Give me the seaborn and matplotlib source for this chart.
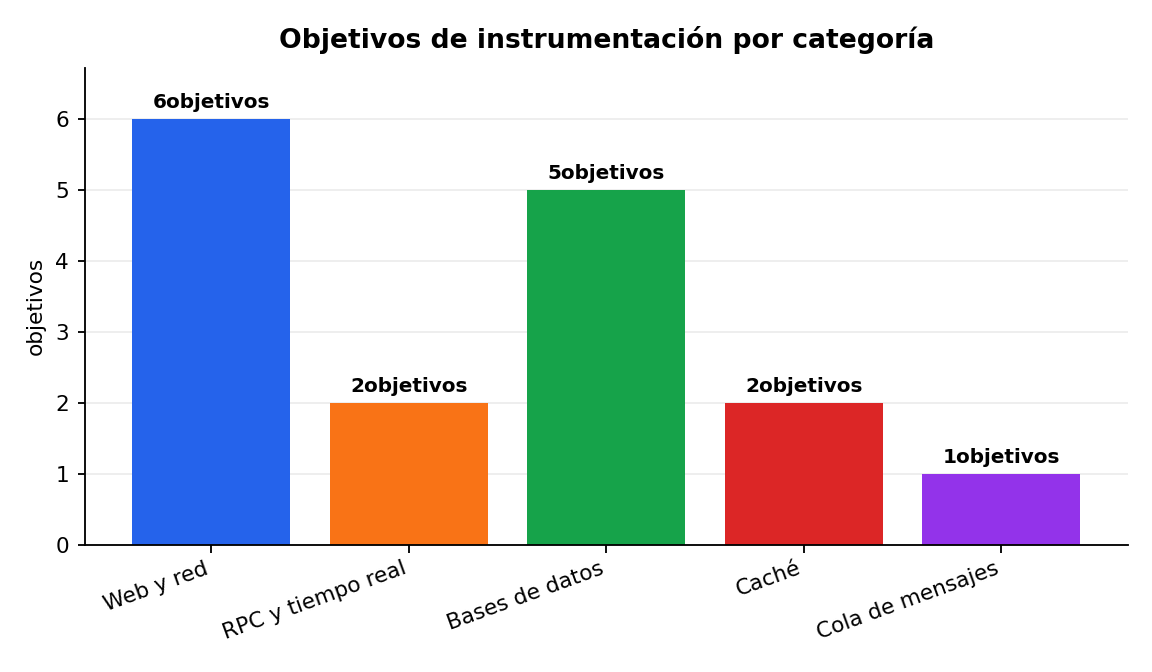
import pandas as pd
import numpy as np
import matplotlib.pyplot as plt
import seaborn as sns

categorias = ["Web y red", "RPC y tiempo real", "Bases de datos", "Caché", "Cola de mensajes"]
objetivos = [6, 2, 5, 2, 1]
colores = ["#2563eb", "#f97316", "#16a34a", "#dc2626", "#9333ea"]

df = pd.DataFrame({"categoria": categorias, "objetivos": objetivos})

sns.set_style("white")
plt.rcParams['font.family'] = ['DejaVu Sans']
plt.rcParams['text.color'] = 'black'
plt.rcParams['axes.labelcolor'] = 'black'
plt.rcParams['xtick.color'] = 'black'
plt.rcParams['ytick.color'] = 'black'
plt.rcParams['axes.edgecolor'] = 'black'

fig = plt.figure(figsize=(9.6, 5.6), dpi=120)
ax = fig.add_axes([0.0738, 0.189, 0.905, 0.71])

sns.barplot(data=df, x="categoria", y="objetivos", hue="categoria",
            palette=colores, width=0.8, saturation=1, legend=False,
            linewidth=0, ax=ax, zorder=2)

for i, v in enumerate(objetivos):
    ax.text(i, v + 0.1, f"{v}objetivos", ha="center", va="bottom",
            fontsize=12, fontweight="bold")

ax.set_ylim(0, 6.72)
ax.set_xlim(-0.64, 4.64)
ax.yaxis.grid(True, color="#b0b0b0", alpha=0.25, linewidth=1, zorder=3)
sns.despine(ax=ax)
ax.spines[["left", "bottom"]].set_linewidth(1.1)
ax.tick_params(axis="both", length=4.5, width=1.1, direction="out", left=True, bottom=True)
ax.tick_params(axis="x", labelsize=13)
ax.tick_params(axis="y", labelsize=13, pad=5)
plt.setp(ax.get_xticklabels(), rotation=20, ha="right")
ax.set_xlabel("")
ax.set_ylabel("objetivos", fontsize=13, labelpad=6)
ax.set_title("Objetivos de instrumentación por categoría", fontsize=16,
             fontweight="bold", pad=12)

fig.savefig("out.png", dpi=120)
